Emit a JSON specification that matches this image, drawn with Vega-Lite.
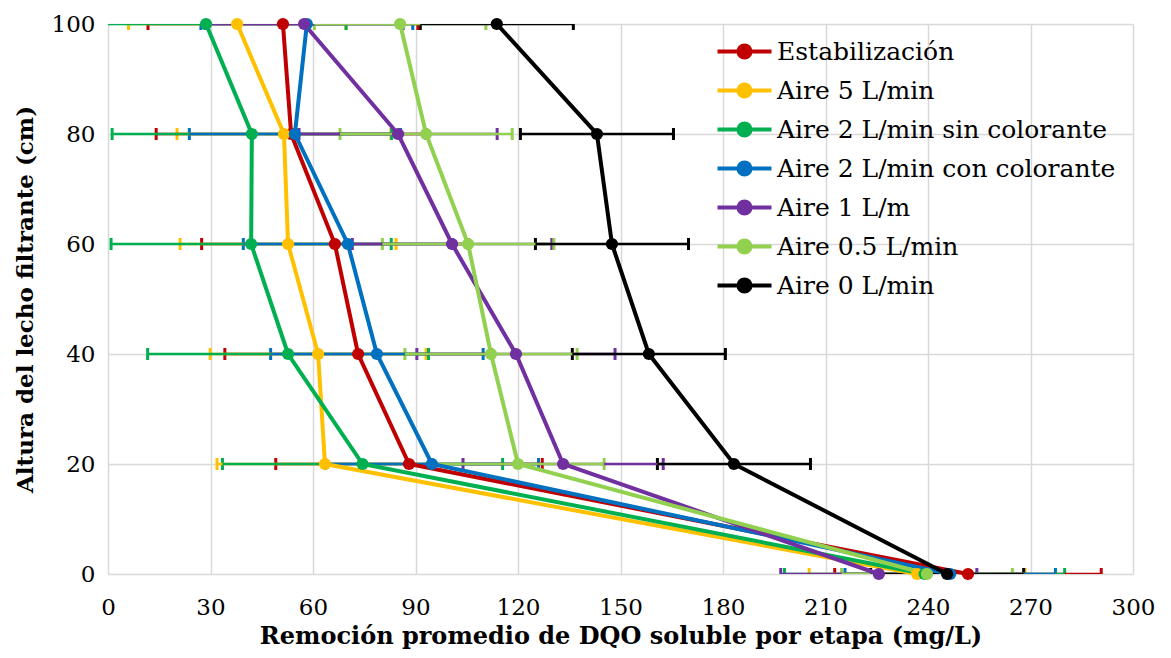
{
  "$schema": "https://vega.github.io/schema/vega-lite/v6.json",
  "width": 1025,
  "height": 550,
  "autosize": {"type": "none"},
  "padding": {"left": 108, "top": 24, "right": 38, "bottom": 84},
  "background": "white",
  "config": {
    "view": {"stroke": null},
    "font": "DejaVu Serif"
  },
  "data": {
    "values": [
      {"serie": "Estabilización", "y": 100, "x": 51.2, "err": 39.5},
      {"serie": "Estabilización", "y": 80, "x": 53.6, "err": 39.5},
      {"serie": "Estabilización", "y": 60, "x": 66.4, "err": 39},
      {"serie": "Estabilización", "y": 40, "x": 73.2, "err": 39},
      {"serie": "Estabilización", "y": 20, "x": 88.1, "err": 39},
      {"serie": "Estabilización", "y": 0, "x": 251.7, "err": 39},
      {"serie": "Aire 5 L/min", "y": 100, "x": 37.8, "err": 31.8},
      {"serie": "Aire 5 L/min", "y": 80, "x": 51.5, "err": 31.3},
      {"serie": "Aire 5 L/min", "y": 60, "x": 52.7, "err": 31.6},
      {"serie": "Aire 5 L/min", "y": 40, "x": 61.5, "err": 31.6},
      {"serie": "Aire 5 L/min", "y": 20, "x": 63.5, "err": 31.6},
      {"serie": "Aire 5 L/min", "y": 0, "x": 236.8, "err": 31.6},
      {"serie": "Aire 2 L/min sin colorante", "y": 100, "x": 28.7, "err": 41},
      {"serie": "Aire 2 L/min sin colorante", "y": 80, "x": 42.1, "err": 40.9},
      {"serie": "Aire 2 L/min sin colorante", "y": 60, "x": 41.9, "err": 41},
      {"serie": "Aire 2 L/min sin colorante", "y": 40, "x": 52.7, "err": 41.1},
      {"serie": "Aire 2 L/min sin colorante", "y": 20, "x": 74.5, "err": 41},
      {"serie": "Aire 2 L/min sin colorante", "y": 0, "x": 239, "err": 41},
      {"serie": "Aire 2 L/min con colorante", "y": 100, "x": 58.2, "err": 31},
      {"serie": "Aire 2 L/min con colorante", "y": 80, "x": 54.7, "err": 30.9},
      {"serie": "Aire 2 L/min con colorante", "y": 60, "x": 70.2, "err": 30.6},
      {"serie": "Aire 2 L/min con colorante", "y": 40, "x": 78.7, "err": 31.1},
      {"serie": "Aire 2 L/min con colorante", "y": 20, "x": 94.8, "err": 31.2},
      {"serie": "Aire 2 L/min con colorante", "y": 0, "x": 246.5, "err": 30.8},
      {"serie": "Aire 1 L/m", "y": 100, "x": 57.4, "err": 29},
      {"serie": "Aire 1 L/m", "y": 80, "x": 84.9, "err": 29},
      {"serie": "Aire 1 L/m", "y": 60, "x": 100.7, "err": 29.2},
      {"serie": "Aire 1 L/m", "y": 40, "x": 119.4, "err": 29},
      {"serie": "Aire 1 L/m", "y": 20, "x": 133.2, "err": 29.3},
      {"serie": "Aire 1 L/m", "y": 0, "x": 225.6, "err": 28.7},
      {"serie": "Aire 0.5 L/min", "y": 100, "x": 85.5, "err": 25.1},
      {"serie": "Aire 0.5 L/min", "y": 80, "x": 93.1, "err": 25.2},
      {"serie": "Aire 0.5 L/min", "y": 60, "x": 105.4, "err": 25.1},
      {"serie": "Aire 0.5 L/min", "y": 40, "x": 112.1, "err": 25.2},
      {"serie": "Aire 0.5 L/min", "y": 20, "x": 120, "err": 25.2},
      {"serie": "Aire 0.5 L/min", "y": 0, "x": 239.7, "err": 25},
      {"serie": "Aire 0 L/min", "y": 100, "x": 113.8, "err": 22.4},
      {"serie": "Aire 0 L/min", "y": 80, "x": 143.1, "err": 22.4},
      {"serie": "Aire 0 L/min", "y": 60, "x": 147.5, "err": 22.4},
      {"serie": "Aire 0 L/min", "y": 40, "x": 158.3, "err": 22.4},
      {"serie": "Aire 0 L/min", "y": 20, "x": 183.2, "err": 22.4},
      {"serie": "Aire 0 L/min", "y": 0, "x": 245.6, "err": 22.4}
    ]
  },
  "encoding": {
    "y": {
      "field": "y", "type": "quantitative",
      "scale": {"domain": [0, 100], "nice": false},
      "axis": {
        "values": [0, 20, 40, 60, 80, 100],
        "title": "Altura del lecho filtrante (cm)",
        "titleFontSize": 23, "titleFontWeight": "bold", "titleColor": "black",
        "titlePadding": 14,
        "labelFontSize": 23, "labelColor": "black", "labelPadding": 13,
        "grid": true, "gridColor": "#d9d9d9", "gridWidth": 1.5,
        "domain": false, "ticks": false
      }
    },
    "x": {
      "field": "x", "type": "quantitative",
      "scale": {"domain": [0, 300], "nice": false},
      "axis": {
        "values": [0, 30, 60, 90, 120, 150, 180, 210, 240, 270, 300],
        "title": "Remoción promedio de DQO soluble por etapa (mg/L)",
        "titleFontSize": 24, "titleFontWeight": "bold", "titleColor": "black",
        "titlePadding": 5,
        "labelFontSize": 23, "labelColor": "black", "labelPadding": 22,
        "labelFlush": false,
        "grid": true, "gridColor": "#d9d9d9", "gridWidth": 1.5,
        "domain": false, "ticks": false
      }
    },
    "color": {
      "field": "serie", "type": "nominal",
      "scale": {
        "domain": ["Estabilización", "Aire 5 L/min", "Aire 2 L/min sin colorante", "Aire 2 L/min con colorante", "Aire 1 L/m", "Aire 0.5 L/min", "Aire 0 L/min"],
        "range": ["#C00000", "#FFC000", "#00B050", "#0070C0", "#7030A0", "#92D050", "#000000"]
      },
      "legend": {
        "title": null,
        "orient": "none",
        "legendX": 624,
        "legendY": 15,
        "labelFontSize": 25,
        "labelColor": "black",
        "labelLimit": 500,
        "labelOffset": 20,
        "rowPadding": 10,
        "symbolType": "M-2.7,0L2.7,0M-0.6,0A0.6,0.6,0,1,0,0.6,0A0.6,0.6,0,1,0,-0.6,0Z",
        "symbolSize": 400,
        "symbolStrokeWidth": 4,
        "encode": {
          "symbols": {
            "update": {
              "fill": {"scale": "color", "field": "value"},
              "stroke": {"scale": "color", "field": "value"},
              "strokeWidth": {"value": 4},
              "opacity": {"value": 1}
            }
          }
        }
      }
    }
  },
  "layer": [
    {
      "mark": {"type": "errorbar", "clip": true, "rule": {"strokeWidth": 2.5}, "ticks": {"size": 12, "thickness": 3, "opacity": 1}},
      "encoding": {
        "xError": {"field": "err"}
      }
    },
    {
      "mark": {"type": "line", "strokeWidth": 4},
      "encoding": {
        "order": {"field": "y", "type": "quantitative"}
      }
    },
    {
      "mark": {"type": "point", "filled": true, "shape": "circle", "size": 150, "opacity": 1}
    }
  ]
}
